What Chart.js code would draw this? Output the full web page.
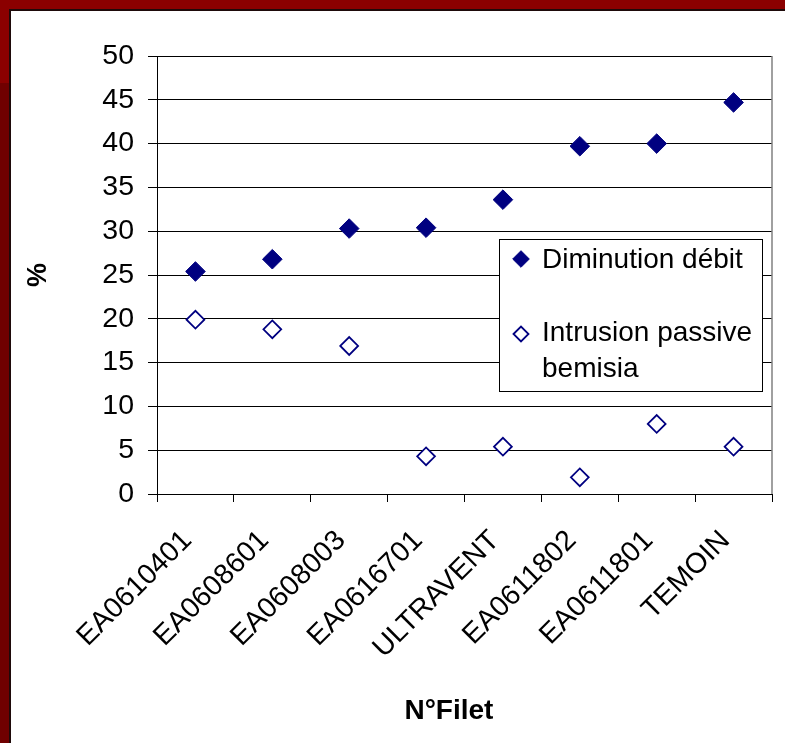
<!DOCTYPE html>
<html>
<head>
<meta charset="utf-8">
<script src="https://cdn.jsdelivr.net/npm/chart.js@4/dist/chart.umd.min.js"></script>
<style>
  html, body { margin: 0; padding: 0; background: #fff; }
  #frame { position: absolute; left: 0; top: 0; width: 785px; height: 743px; overflow: hidden; background: #fff; }
  .band { position: absolute; }
  #wrap { position: absolute; left: 0; top: 0; width: 785px; height: 743px; }
</style>
</head>
<body>
<div id="frame">
  <div class="band" style="left:0;top:0;width:785px;height:9px;background:#8b0000"></div>
  <div class="band" style="left:0;top:0;width:9px;height:83px;background:#8b0000"></div>
  <div class="band" style="left:0;top:83px;width:9px;height:660px;background:#700000"></div>
  <div class="band" style="left:9px;top:9px;width:776px;height:2px;background:#1e0a0a"></div>
  <div class="band" style="left:9px;top:9px;width:2px;height:734px;background:#1e0a0a"></div>
</div>
<div id="wrap"><canvas id="c"></canvas></div>
<script>
// Nets tested and their measured percentages
const categories = ['EA0610401', 'EA0608601', 'EA0608003', 'EA0616701', 'ULTRAVENT', 'EA0611802', 'EA0611801', 'TEMOIN'];
const diminutionDebit = [25.4, 26.8, 30.3, 30.4, 33.6, 39.7, 40.0, 44.7];
const intrusionPassive = [19.9, 18.8, 16.9, 4.3, 5.4, 1.9, 8.0, 5.4];
const seriesNames = ['Diminution débit', 'Intrusion passive bemisia'];
const yMin = 0, yMax = 50, yStep = 5;

const FONT = '"Liberation Sans", Arial, Helvetica, sans-serif';
const NAVY = '#000080';

// Right plot border plus a boxed legend placed inside the plot area
const plotExtras = {
  id: 'plotExtras',
  beforeDatasetsDraw(chart) {
    const { ctx, chartArea: a } = chart;
    ctx.save();
    ctx.strokeStyle = '#808080';
    ctx.lineWidth = 1.5;
    ctx.beginPath();
    ctx.moveTo(a.right, a.top);
    ctx.lineTo(a.right, a.bottom);
    ctx.stroke();
    ctx.restore();
  },
  afterDraw(chart) {
    const { ctx, chartArea: a } = chart;
    const x = a.left + 342, y = a.top + 183, w = 263, h = 152;
    ctx.save();
    ctx.fillStyle = '#fff';
    ctx.fillRect(x, y, w, h);
    ctx.strokeStyle = '#000';
    ctx.lineWidth = 1;
    ctx.strokeRect(x + 0.5, y + 0.5, w, h);

    const rows = [{ marker: 20, base: 29 }, { marker: 95, base: 102 }];
    const textX = x + 43, maxW = w - 43 - 4, lineGap = 36;
    ctx.font = '28px ' + FONT;
    ctx.textBaseline = 'alphabetic';
    ctx.textAlign = 'left';
    chart.data.datasets.forEach((ds, i) => {
      const r = rows[i];
      ctx.fillStyle = ds.backgroundColor;
      ctx.strokeStyle = ds.borderColor;
      ctx.lineWidth = ds.borderWidth;
      Chart.helpers.drawPoint(ctx, { pointStyle: 'rectRot', radius: ds.legendRadius, borderWidth: ds.borderWidth, rotation: 0 }, x + 22, y + r.marker);
      // wrap the series name to the legend width
      const words = ds.label.split(' ');
      const lines = [];
      let cur = '';
      words.forEach(wd => {
        const t = cur ? cur + ' ' + wd : wd;
        if (cur && ctx.measureText(t).width > maxW) { lines.push(cur); cur = wd; }
        else cur = t;
      });
      if (cur) lines.push(cur);
      ctx.fillStyle = '#000';
      lines.forEach((ln, k) => ctx.fillText(ln, textX, y + r.base + k * lineGap));
    });
    ctx.restore();
  }
};

new Chart(document.getElementById('c'), {
  type: 'line',
  data: {
    labels: categories,
    datasets: [
      {
        label: seriesNames[0],
        data: diminutionDebit,
        showLine: false,
        pointStyle: 'rectRot',
        pointRadius: 9.8,
        backgroundColor: NAVY,
        borderColor: NAVY,
        borderWidth: 1,
        legendRadius: 8.3
      },
      {
        label: seriesNames[1],
        data: intrusionPassive,
        showLine: false,
        pointStyle: 'rectRot',
        pointRadius: 8.9,
        backgroundColor: '#ffffff',
        borderColor: NAVY,
        borderWidth: 1.8,
        legendRadius: 7.5
      }
    ]
  },
  options: {
    responsive: true,
    maintainAspectRatio: false,
    animation: false,
    events: [],
    layout: { padding: { left: 22, top: 56, right: 13, bottom: 15 } },
    plugins: { legend: { display: false }, tooltip: { enabled: false } },
    scales: {
      x: {
        offset: true,
        afterFit(scale) { scale.height = 234; },
        grid: { offset: true, drawOnChartArea: false, drawTicks: true, tickLength: 8, color: '#000', lineWidth: 1 },
        border: { color: '#000', width: 1 },
        ticks: {
          autoSkip: false, minRotation: 45, maxRotation: 45,
          labelOffset: -8, padding: 22,
          color: '#000', font: { family: FONT, size: 28.5 }
        },
        // trailing spaces pull the centred title slightly left of the plot centre
        title: { display: true, text: 'N°Filet    ', color: '#000', padding: 0, font: { family: FONT, size: 28, weight: 'bold' } }
      },
      y: {
        min: yMin, max: yMax,
        afterFit(scale) { scale.width = 135; },
        grid: { color: '#000', lineWidth: 1, tickLength: 9 },
        border: { color: '#000', width: 1 },
        ticks: { stepSize: yStep, padding: 14, color: '#000', font: { family: FONT, size: 28.5 } },
        title: { display: true, text: '%', color: '#000', padding: 0, font: { family: FONT, size: 27, weight: 'bold' } }
      }
    }
  },
  plugins: [plotExtras]
});
</script>
</body>
</html>
